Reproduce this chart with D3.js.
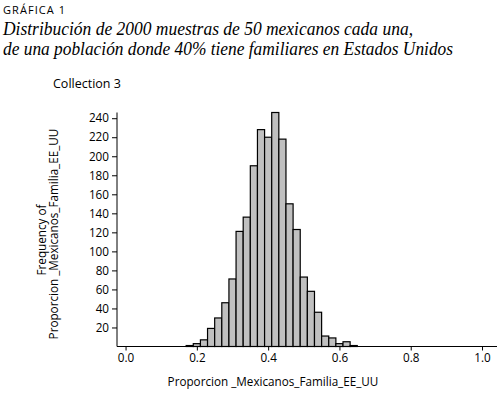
<!DOCTYPE html>
<html>
<head>
<meta charset="utf-8">
<script src="https://cdn.jsdelivr.net/npm/d3@7"></script>
<style>
  body { margin: 0; background: #fff; }
  text { font-family: "Open Sans", "DejaVu Sans", sans-serif; fill: #000; }
  .titulo { font-family: "Liberation Serif", serif; font-style: italic; font-size: 19px; }
</style>
</head>
<body>
<div id="chart-area"></div>
<script>
// valores: proporcion muestral (k/50) y su frecuencia
var proporciones = [0.18, 0.20, 0.22, 0.24, 0.26, 0.28, 0.30, 0.32, 0.34, 0.36, 0.38, 0.40,
                    0.42, 0.44, 0.46, 0.48, 0.50, 0.52, 0.54, 0.56, 0.58, 0.60, 0.62, 0.64];
var frecuencias = [1, 3, 7, 19, 30, 46, 71, 121, 136, 190, 228, 220,
                   246, 218, 150, 123, 73, 58, 36, 11, 9, 3, 5, 1];
var yTicks = [20, 40, 60, 80, 100, 120, 140, 160, 180, 200, 220, 240];
var xTicks = [0.0, 0.2, 0.4, 0.6, 0.8, 1.0];
var binWidth = 0.02;

var data = proporciones.map((p, i) => ({ p: p, n: frecuencias[i] }));

var svg = d3.select("#chart-area")
  .append("svg")
  .attr("width", 502)
  .attr("height", 394);

// encabezado
svg.append("text")
  .attr("x", 3)
  .attr("y", 13.5)
  .attr("font-size", "11px")
  .attr("font-weight", 500)
  .attr("textLength", 62)
  .attr("lengthAdjust", "spacing")
  .text("GRÁFICA 1");

svg.append("text")
  .attr("class", "titulo")
  .attr("x", 3)
  .attr("y", 35)
  .attr("textLength", 410)
  .attr("lengthAdjust", "spacingAndGlyphs")
  .text("Distribución de 2000 muestras de 50 mexicanos cada una,");

svg.append("text")
  .attr("class", "titulo")
  .attr("x", 3)
  .attr("y", 55)
  .attr("textLength", 450)
  .attr("lengthAdjust", "spacingAndGlyphs")
  .text("de una población donde 40% tiene familiares en Estados Unidos");

svg.append("text")
  .attr("x", 53)
  .attr("y", 87.5)
  .attr("font-size", "12.5px")
  .text("Collection 3");

var x = d3.scaleLinear()
  .domain([-0.024, 1.042])
  .range([117, 497]);

var y = d3.scaleLinear()
  .domain([0, 246])
  .range([346.5, 112.5]);

// barras
svg.selectAll("rect.bar")
  .data(data)
  .enter()
  .append("rect")
  .attr("class", "bar")
  .attr("x", d => x(d.p - binWidth / 2))
  .attr("y", d => y(d.n))
  .attr("width", d => x(d.p + binWidth / 2) - x(d.p - binWidth / 2))
  .attr("height", d => y(0) - y(d.n))
  .attr("fill", "#c0c0c0")
  .attr("stroke", "#000")
  .attr("stroke-width", 1.2);

// ejes
var xAxisCall = d3.axisBottom(x)
  .tickValues(xTicks)
  .tickSize(4)
  .tickPadding(3)
  .tickFormat(d3.format(".1f"));
var xAxis = svg.append("g")
  .attr("transform", "translate(0," + y(0) + ")")
  .call(xAxisCall);
xAxis.select(".domain").remove();
xAxis.selectAll("text")
  .attr("font-size", "11.7px")
  .attr("font-family", "'Open Sans', sans-serif");

var yAxisCall = d3.axisLeft(y)
  .tickValues(yTicks)
  .tickSize(5)
  .tickPadding(3);
var yAxis = svg.append("g")
  .attr("transform", "translate(" + x.range()[0] + ",0)")
  .call(yAxisCall);
yAxis.select(".domain").remove();
yAxis.selectAll("text")
  .attr("font-size", "11.7px")
  .attr("font-family", "'Open Sans', sans-serif");

svg.append("line")
  .attr("x1", x.range()[0]).attr("x2", x.range()[1])
  .attr("y1", y(0)).attr("y2", y(0))
  .attr("stroke", "#000");
svg.append("line")
  .attr("x1", x.range()[0]).attr("x2", x.range()[0])
  .attr("y1", y(0)).attr("y2", y.range()[1])
  .attr("stroke", "#000");

// titulos de ejes
svg.append("text")
  .attr("x", 273)
  .attr("y", 386)
  .attr("font-size", "11.7px")
  .attr("text-anchor", "middle")
  .text("Proporcion _Mexicanos_Familia_EE_UU");

svg.append("text")
  .attr("transform", "translate(46,240) rotate(-90)")
  .attr("font-size", "11.7px")
  .attr("text-anchor", "middle")
  .text("Frequency of");

svg.append("text")
  .attr("transform", "translate(57.5,234) rotate(-90)")
  .attr("font-size", "11.7px")
  .attr("text-anchor", "middle")
  .text("Proporcion _Mexicanos_Familia_EE_UU");
</script>
</body>
</html>
